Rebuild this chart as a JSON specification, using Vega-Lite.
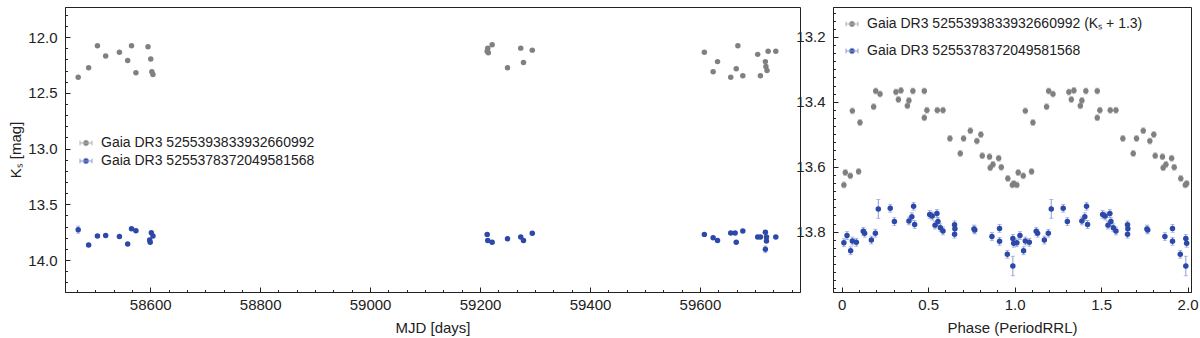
{
  "$schema": "https://vega.github.io/schema/vega-lite/v6.json",
  "padding": {"left": 8, "top": 5, "right": 5, "bottom": 0},
  "background": "white",
  "bounds": "flush",
  "spacing": 33,
  "config": {
    "font": "Liberation Sans",
    "view": {"stroke": "#222", "strokeWidth": 1},
    "axis": {"domainColor": "#222", "tickColor": "#222", "labelColor": "#222", "titleColor": "#222", "labelFontSize": 15, "titleFontSize": 15, "titleFontWeight": "normal", "grid": false, "labelFont": "Liberation Sans", "titleFont": "Liberation Sans", "labelOverlap": false, "labelFlush": false, "tickWidth": 1},
    "legend": {"labelFont": "Liberation Sans", "labelFontSize": 14, "labelLimit": 600, "labelColor": "#222"}
  },
  "resolve": {"scale": {"x": "independent", "y": "independent"}, "legend": {"fill": "independent", "stroke": "independent"}},
  "datasets": {
    "lc": [
      {"mjd": 58469, "mag": 12.36, "err": 0.008, "src": "Gaia DR3 5255393833932660992"},
      {"mjd": 58488, "mag": 12.275, "err": 0.008, "src": "Gaia DR3 5255393833932660992"},
      {"mjd": 58504, "mag": 12.078, "err": 0.008, "src": "Gaia DR3 5255393833932660992"},
      {"mjd": 58519, "mag": 12.17, "err": 0.008, "src": "Gaia DR3 5255393833932660992"},
      {"mjd": 58544, "mag": 12.135, "err": 0.008, "src": "Gaia DR3 5255393833932660992"},
      {"mjd": 58559, "mag": 12.21, "err": 0.008, "src": "Gaia DR3 5255393833932660992"},
      {"mjd": 58566, "mag": 12.078, "err": 0.008, "src": "Gaia DR3 5255393833932660992"},
      {"mjd": 58574, "mag": 12.32, "err": 0.008, "src": "Gaia DR3 5255393833932660992"},
      {"mjd": 58596, "mag": 12.087, "err": 0.008, "src": "Gaia DR3 5255393833932660992"},
      {"mjd": 58601, "mag": 12.197, "err": 0.008, "src": "Gaia DR3 5255393833932660992"},
      {"mjd": 58603, "mag": 12.31, "err": 0.008, "src": "Gaia DR3 5255393833932660992"},
      {"mjd": 58605, "mag": 12.335, "err": 0.008, "src": "Gaia DR3 5255393833932660992"},
      {"mjd": 59213, "mag": 12.128, "err": 0.008, "src": "Gaia DR3 5255393833932660992"},
      {"mjd": 59214, "mag": 12.099, "err": 0.008, "src": "Gaia DR3 5255393833932660992"},
      {"mjd": 59215, "mag": 12.14, "err": 0.008, "src": "Gaia DR3 5255393833932660992"},
      {"mjd": 59222, "mag": 12.069, "err": 0.008, "src": "Gaia DR3 5255393833932660992"},
      {"mjd": 59250, "mag": 12.275, "err": 0.008, "src": "Gaia DR3 5255393833932660992"},
      {"mjd": 59274, "mag": 12.099, "err": 0.008, "src": "Gaia DR3 5255393833932660992"},
      {"mjd": 59279, "mag": 12.227, "err": 0.008, "src": "Gaia DR3 5255393833932660992"},
      {"mjd": 59295, "mag": 12.117, "err": 0.008, "src": "Gaia DR3 5255393833932660992"},
      {"mjd": 59608, "mag": 12.135, "err": 0.008, "src": "Gaia DR3 5255393833932660992"},
      {"mjd": 59624, "mag": 12.31, "err": 0.008, "src": "Gaia DR3 5255393833932660992"},
      {"mjd": 59632, "mag": 12.22, "err": 0.008, "src": "Gaia DR3 5255393833932660992"},
      {"mjd": 59656, "mag": 12.36, "err": 0.008, "src": "Gaia DR3 5255393833932660992"},
      {"mjd": 59666, "mag": 12.284, "err": 0.008, "src": "Gaia DR3 5255393833932660992"},
      {"mjd": 59669, "mag": 12.078, "err": 0.008, "src": "Gaia DR3 5255393833932660992"},
      {"mjd": 59678, "mag": 12.347, "err": 0.008, "src": "Gaia DR3 5255393833932660992"},
      {"mjd": 59705, "mag": 12.155, "err": 0.008, "src": "Gaia DR3 5255393833932660992"},
      {"mjd": 59710, "mag": 12.347, "err": 0.008, "src": "Gaia DR3 5255393833932660992"},
      {"mjd": 59719, "mag": 12.22, "err": 0.008, "src": "Gaia DR3 5255393833932660992"},
      {"mjd": 59720, "mag": 12.263, "err": 0.008, "src": "Gaia DR3 5255393833932660992"},
      {"mjd": 59722, "mag": 12.3, "err": 0.008, "src": "Gaia DR3 5255393833932660992"},
      {"mjd": 59724, "mag": 12.128, "err": 0.008, "src": "Gaia DR3 5255393833932660992"},
      {"mjd": 59738, "mag": 12.128, "err": 0.008, "src": "Gaia DR3 5255393833932660992"},
      {"mjd": 58469, "mag": 13.728, "err": 0.032, "src": "Gaia DR3 5255378372049581568"},
      {"mjd": 58488, "mag": 13.865, "err": 0.012, "src": "Gaia DR3 5255378372049581568"},
      {"mjd": 58504, "mag": 13.785, "err": 0.012, "src": "Gaia DR3 5255378372049581568"},
      {"mjd": 58519, "mag": 13.78, "err": 0.012, "src": "Gaia DR3 5255378372049581568"},
      {"mjd": 58544, "mag": 13.79, "err": 0.012, "src": "Gaia DR3 5255378372049581568"},
      {"mjd": 58559, "mag": 13.857, "err": 0.012, "src": "Gaia DR3 5255378372049581568"},
      {"mjd": 58566, "mag": 13.72, "err": 0.012, "src": "Gaia DR3 5255378372049581568"},
      {"mjd": 58574, "mag": 13.737, "err": 0.012, "src": "Gaia DR3 5255378372049581568"},
      {"mjd": 58599, "mag": 13.82, "err": 0.012, "src": "Gaia DR3 5255378372049581568"},
      {"mjd": 58600, "mag": 13.84, "err": 0.012, "src": "Gaia DR3 5255378372049581568"},
      {"mjd": 58602, "mag": 13.755, "err": 0.012, "src": "Gaia DR3 5255378372049581568"},
      {"mjd": 58605, "mag": 13.785, "err": 0.012, "src": "Gaia DR3 5255378372049581568"},
      {"mjd": 59213, "mag": 13.77, "err": 0.012, "src": "Gaia DR3 5255378372049581568"},
      {"mjd": 59214, "mag": 13.824, "err": 0.012, "src": "Gaia DR3 5255378372049581568"},
      {"mjd": 59222, "mag": 13.84, "err": 0.012, "src": "Gaia DR3 5255378372049581568"},
      {"mjd": 59250, "mag": 13.81, "err": 0.012, "src": "Gaia DR3 5255378372049581568"},
      {"mjd": 59274, "mag": 13.794, "err": 0.012, "src": "Gaia DR3 5255378372049581568"},
      {"mjd": 59279, "mag": 13.824, "err": 0.012, "src": "Gaia DR3 5255378372049581568"},
      {"mjd": 59295, "mag": 13.76, "err": 0.012, "src": "Gaia DR3 5255378372049581568"},
      {"mjd": 59608, "mag": 13.77, "err": 0.012, "src": "Gaia DR3 5255378372049581568"},
      {"mjd": 59624, "mag": 13.8, "err": 0.012, "src": "Gaia DR3 5255378372049581568"},
      {"mjd": 59632, "mag": 13.824, "err": 0.012, "src": "Gaia DR3 5255378372049581568"},
      {"mjd": 59656, "mag": 13.758, "err": 0.012, "src": "Gaia DR3 5255378372049581568"},
      {"mjd": 59664, "mag": 13.758, "err": 0.012, "src": "Gaia DR3 5255378372049581568"},
      {"mjd": 59666, "mag": 13.84, "err": 0.012, "src": "Gaia DR3 5255378372049581568"},
      {"mjd": 59678, "mag": 13.74, "err": 0.012, "src": "Gaia DR3 5255378372049581568"},
      {"mjd": 59705, "mag": 13.794, "err": 0.012, "src": "Gaia DR3 5255378372049581568"},
      {"mjd": 59710, "mag": 13.794, "err": 0.012, "src": "Gaia DR3 5255378372049581568"},
      {"mjd": 59719, "mag": 13.75, "err": 0.012, "src": "Gaia DR3 5255378372049581568"},
      {"mjd": 59719, "mag": 13.904, "err": 0.03, "src": "Gaia DR3 5255378372049581568"},
      {"mjd": 59721, "mag": 13.794, "err": 0.012, "src": "Gaia DR3 5255378372049581568"},
      {"mjd": 59721, "mag": 13.83, "err": 0.012, "src": "Gaia DR3 5255378372049581568"},
      {"mjd": 59738, "mag": 13.794, "err": 0.012, "src": "Gaia DR3 5255378372049581568"}
    ],
    "ph": [
      {"phase": 0.013, "mag": 13.656, "err": 0.009, "src": "Gaia DR3 5255393833932660992"},
      {"phase": 0.021, "mag": 13.618, "err": 0.009, "src": "Gaia DR3 5255393833932660992"},
      {"phase": 0.05, "mag": 13.628, "err": 0.009, "src": "Gaia DR3 5255393833932660992"},
      {"phase": 0.062, "mag": 13.428, "err": 0.009, "src": "Gaia DR3 5255393833932660992"},
      {"phase": 0.098, "mag": 13.615, "err": 0.009, "src": "Gaia DR3 5255393833932660992"},
      {"phase": 0.106, "mag": 13.464, "err": 0.009, "src": "Gaia DR3 5255393833932660992"},
      {"phase": 0.185, "mag": 13.415, "err": 0.009, "src": "Gaia DR3 5255393833932660992"},
      {"phase": 0.197, "mag": 13.367, "err": 0.009, "src": "Gaia DR3 5255393833932660992"},
      {"phase": 0.222, "mag": 13.376, "err": 0.009, "src": "Gaia DR3 5255393833932660992"},
      {"phase": 0.314, "mag": 13.37, "err": 0.009, "src": "Gaia DR3 5255393833932660992"},
      {"phase": 0.328, "mag": 13.393, "err": 0.009, "src": "Gaia DR3 5255393833932660992"},
      {"phase": 0.343, "mag": 13.365, "err": 0.009, "src": "Gaia DR3 5255393833932660992"},
      {"phase": 0.38, "mag": 13.412, "err": 0.009, "src": "Gaia DR3 5255393833932660992"},
      {"phase": 0.389, "mag": 13.396, "err": 0.009, "src": "Gaia DR3 5255393833932660992"},
      {"phase": 0.412, "mag": 13.367, "err": 0.009, "src": "Gaia DR3 5255393833932660992"},
      {"phase": 0.478, "mag": 13.367, "err": 0.009, "src": "Gaia DR3 5255393833932660992"},
      {"phase": 0.478, "mag": 13.449, "err": 0.009, "src": "Gaia DR3 5255393833932660992"},
      {"phase": 0.493, "mag": 13.426, "err": 0.009, "src": "Gaia DR3 5255393833932660992"},
      {"phase": 0.553, "mag": 13.426, "err": 0.009, "src": "Gaia DR3 5255393833932660992"},
      {"phase": 0.586, "mag": 13.426, "err": 0.009, "src": "Gaia DR3 5255393833932660992"},
      {"phase": 0.626, "mag": 13.513, "err": 0.009, "src": "Gaia DR3 5255393833932660992"},
      {"phase": 0.686, "mag": 13.559, "err": 0.009, "src": "Gaia DR3 5255393833932660992"},
      {"phase": 0.705, "mag": 13.513, "err": 0.009, "src": "Gaia DR3 5255393833932660992"},
      {"phase": 0.744, "mag": 13.489, "err": 0.009, "src": "Gaia DR3 5255393833932660992"},
      {"phase": 0.782, "mag": 13.521, "err": 0.009, "src": "Gaia DR3 5255393833932660992"},
      {"phase": 0.805, "mag": 13.501, "err": 0.009, "src": "Gaia DR3 5255393833932660992"},
      {"phase": 0.813, "mag": 13.566, "err": 0.009, "src": "Gaia DR3 5255393833932660992"},
      {"phase": 0.855, "mag": 13.569, "err": 0.009, "src": "Gaia DR3 5255393833932660992"},
      {"phase": 0.859, "mag": 13.603, "err": 0.009, "src": "Gaia DR3 5255393833932660992"},
      {"phase": 0.875, "mag": 13.593, "err": 0.009, "src": "Gaia DR3 5255393833932660992"},
      {"phase": 0.908, "mag": 13.574, "err": 0.009, "src": "Gaia DR3 5255393833932660992"},
      {"phase": 0.923, "mag": 13.602, "err": 0.009, "src": "Gaia DR3 5255393833932660992"},
      {"phase": 0.961, "mag": 13.636, "err": 0.009, "src": "Gaia DR3 5255393833932660992"},
      {"phase": 0.987, "mag": 13.656, "err": 0.009, "src": "Gaia DR3 5255393833932660992"},
      {"phase": 0.995, "mag": 13.652, "err": 0.009, "src": "Gaia DR3 5255393833932660992"},
      {"phase": 1.013, "mag": 13.656, "err": 0.009, "src": "Gaia DR3 5255393833932660992"},
      {"phase": 1.021, "mag": 13.618, "err": 0.009, "src": "Gaia DR3 5255393833932660992"},
      {"phase": 1.05, "mag": 13.628, "err": 0.009, "src": "Gaia DR3 5255393833932660992"},
      {"phase": 1.062, "mag": 13.428, "err": 0.009, "src": "Gaia DR3 5255393833932660992"},
      {"phase": 1.098, "mag": 13.615, "err": 0.009, "src": "Gaia DR3 5255393833932660992"},
      {"phase": 1.106, "mag": 13.464, "err": 0.009, "src": "Gaia DR3 5255393833932660992"},
      {"phase": 1.185, "mag": 13.415, "err": 0.009, "src": "Gaia DR3 5255393833932660992"},
      {"phase": 1.197, "mag": 13.367, "err": 0.009, "src": "Gaia DR3 5255393833932660992"},
      {"phase": 1.222, "mag": 13.376, "err": 0.009, "src": "Gaia DR3 5255393833932660992"},
      {"phase": 1.314, "mag": 13.37, "err": 0.009, "src": "Gaia DR3 5255393833932660992"},
      {"phase": 1.328, "mag": 13.393, "err": 0.009, "src": "Gaia DR3 5255393833932660992"},
      {"phase": 1.343, "mag": 13.365, "err": 0.009, "src": "Gaia DR3 5255393833932660992"},
      {"phase": 1.38, "mag": 13.412, "err": 0.009, "src": "Gaia DR3 5255393833932660992"},
      {"phase": 1.389, "mag": 13.396, "err": 0.009, "src": "Gaia DR3 5255393833932660992"},
      {"phase": 1.412, "mag": 13.367, "err": 0.009, "src": "Gaia DR3 5255393833932660992"},
      {"phase": 1.478, "mag": 13.367, "err": 0.009, "src": "Gaia DR3 5255393833932660992"},
      {"phase": 1.478, "mag": 13.449, "err": 0.009, "src": "Gaia DR3 5255393833932660992"},
      {"phase": 1.493, "mag": 13.426, "err": 0.009, "src": "Gaia DR3 5255393833932660992"},
      {"phase": 1.553, "mag": 13.426, "err": 0.009, "src": "Gaia DR3 5255393833932660992"},
      {"phase": 1.586, "mag": 13.426, "err": 0.009, "src": "Gaia DR3 5255393833932660992"},
      {"phase": 1.626, "mag": 13.513, "err": 0.009, "src": "Gaia DR3 5255393833932660992"},
      {"phase": 1.686, "mag": 13.559, "err": 0.009, "src": "Gaia DR3 5255393833932660992"},
      {"phase": 1.705, "mag": 13.513, "err": 0.009, "src": "Gaia DR3 5255393833932660992"},
      {"phase": 1.744, "mag": 13.489, "err": 0.009, "src": "Gaia DR3 5255393833932660992"},
      {"phase": 1.782, "mag": 13.521, "err": 0.009, "src": "Gaia DR3 5255393833932660992"},
      {"phase": 1.805, "mag": 13.501, "err": 0.009, "src": "Gaia DR3 5255393833932660992"},
      {"phase": 1.813, "mag": 13.566, "err": 0.009, "src": "Gaia DR3 5255393833932660992"},
      {"phase": 1.855, "mag": 13.569, "err": 0.009, "src": "Gaia DR3 5255393833932660992"},
      {"phase": 1.859, "mag": 13.603, "err": 0.009, "src": "Gaia DR3 5255393833932660992"},
      {"phase": 1.875, "mag": 13.593, "err": 0.009, "src": "Gaia DR3 5255393833932660992"},
      {"phase": 1.908, "mag": 13.574, "err": 0.009, "src": "Gaia DR3 5255393833932660992"},
      {"phase": 1.923, "mag": 13.602, "err": 0.009, "src": "Gaia DR3 5255393833932660992"},
      {"phase": 1.961, "mag": 13.636, "err": 0.009, "src": "Gaia DR3 5255393833932660992"},
      {"phase": 1.987, "mag": 13.656, "err": 0.009, "src": "Gaia DR3 5255393833932660992"},
      {"phase": 1.995, "mag": 13.652, "err": 0.009, "src": "Gaia DR3 5255393833932660992"},
      {"phase": 0.013, "mag": 13.834, "err": 0.012, "src": "Gaia DR3 5255378372049581568"},
      {"phase": 0.031, "mag": 13.812, "err": 0.012, "src": "Gaia DR3 5255378372049581568"},
      {"phase": 0.052, "mag": 13.859, "err": 0.012, "src": "Gaia DR3 5255378372049581568"},
      {"phase": 0.062, "mag": 13.829, "err": 0.012, "src": "Gaia DR3 5255378372049581568"},
      {"phase": 0.085, "mag": 13.833, "err": 0.012, "src": "Gaia DR3 5255378372049581568"},
      {"phase": 0.125, "mag": 13.799, "err": 0.012, "src": "Gaia DR3 5255378372049581568"},
      {"phase": 0.133, "mag": 13.805, "err": 0.012, "src": "Gaia DR3 5255378372049581568"},
      {"phase": 0.172, "mag": 13.826, "err": 0.012, "src": "Gaia DR3 5255378372049581568"},
      {"phase": 0.195, "mag": 13.805, "err": 0.012, "src": "Gaia DR3 5255378372049581568"},
      {"phase": 0.212, "mag": 13.73, "err": 0.029, "src": "Gaia DR3 5255378372049581568"},
      {"phase": 0.281, "mag": 13.728, "err": 0.012, "src": "Gaia DR3 5255378372049581568"},
      {"phase": 0.305, "mag": 13.769, "err": 0.012, "src": "Gaia DR3 5255378372049581568"},
      {"phase": 0.389, "mag": 13.767, "err": 0.012, "src": "Gaia DR3 5255378372049581568"},
      {"phase": 0.406, "mag": 13.754, "err": 0.012, "src": "Gaia DR3 5255378372049581568"},
      {"phase": 0.416, "mag": 13.722, "err": 0.012, "src": "Gaia DR3 5255378372049581568"},
      {"phase": 0.422, "mag": 13.778, "err": 0.012, "src": "Gaia DR3 5255378372049581568"},
      {"phase": 0.509, "mag": 13.747, "err": 0.012, "src": "Gaia DR3 5255378372049581568"},
      {"phase": 0.524, "mag": 13.752, "err": 0.012, "src": "Gaia DR3 5255378372049581568"},
      {"phase": 0.54, "mag": 13.78, "err": 0.012, "src": "Gaia DR3 5255378372049581568"},
      {"phase": 0.551, "mag": 13.744, "err": 0.012, "src": "Gaia DR3 5255378372049581568"},
      {"phase": 0.557, "mag": 13.769, "err": 0.012, "src": "Gaia DR3 5255378372049581568"},
      {"phase": 0.571, "mag": 13.788, "err": 0.012, "src": "Gaia DR3 5255378372049581568"},
      {"phase": 0.586, "mag": 13.798, "err": 0.012, "src": "Gaia DR3 5255378372049581568"},
      {"phase": 0.653, "mag": 13.779, "err": 0.012, "src": "Gaia DR3 5255378372049581568"},
      {"phase": 0.655, "mag": 13.791, "err": 0.012, "src": "Gaia DR3 5255378372049581568"},
      {"phase": 0.653, "mag": 13.808, "err": 0.012, "src": "Gaia DR3 5255378372049581568"},
      {"phase": 0.765, "mag": 13.792, "err": 0.012, "src": "Gaia DR3 5255378372049581568"},
      {"phase": 0.77, "mag": 13.795, "err": 0.012, "src": "Gaia DR3 5255378372049581568"},
      {"phase": 0.869, "mag": 13.815, "err": 0.012, "src": "Gaia DR3 5255378372049581568"},
      {"phase": 0.913, "mag": 13.79, "err": 0.012, "src": "Gaia DR3 5255378372049581568"},
      {"phase": 0.913, "mag": 13.83, "err": 0.012, "src": "Gaia DR3 5255378372049581568"},
      {"phase": 0.958, "mag": 13.87, "err": 0.012, "src": "Gaia DR3 5255378372049581568"},
      {"phase": 0.99, "mag": 13.821, "err": 0.012, "src": "Gaia DR3 5255378372049581568"},
      {"phase": 0.99, "mag": 13.906, "err": 0.03, "src": "Gaia DR3 5255378372049581568"},
      {"phase": 0.995, "mag": 13.836, "err": 0.012, "src": "Gaia DR3 5255378372049581568"},
      {"phase": 1.013, "mag": 13.834, "err": 0.012, "src": "Gaia DR3 5255378372049581568"},
      {"phase": 1.031, "mag": 13.812, "err": 0.012, "src": "Gaia DR3 5255378372049581568"},
      {"phase": 1.052, "mag": 13.859, "err": 0.012, "src": "Gaia DR3 5255378372049581568"},
      {"phase": 1.062, "mag": 13.829, "err": 0.012, "src": "Gaia DR3 5255378372049581568"},
      {"phase": 1.085, "mag": 13.833, "err": 0.012, "src": "Gaia DR3 5255378372049581568"},
      {"phase": 1.125, "mag": 13.799, "err": 0.012, "src": "Gaia DR3 5255378372049581568"},
      {"phase": 1.133, "mag": 13.805, "err": 0.012, "src": "Gaia DR3 5255378372049581568"},
      {"phase": 1.172, "mag": 13.826, "err": 0.012, "src": "Gaia DR3 5255378372049581568"},
      {"phase": 1.195, "mag": 13.805, "err": 0.012, "src": "Gaia DR3 5255378372049581568"},
      {"phase": 1.212, "mag": 13.73, "err": 0.029, "src": "Gaia DR3 5255378372049581568"},
      {"phase": 1.281, "mag": 13.728, "err": 0.012, "src": "Gaia DR3 5255378372049581568"},
      {"phase": 1.305, "mag": 13.769, "err": 0.012, "src": "Gaia DR3 5255378372049581568"},
      {"phase": 1.389, "mag": 13.767, "err": 0.012, "src": "Gaia DR3 5255378372049581568"},
      {"phase": 1.406, "mag": 13.754, "err": 0.012, "src": "Gaia DR3 5255378372049581568"},
      {"phase": 1.416, "mag": 13.722, "err": 0.012, "src": "Gaia DR3 5255378372049581568"},
      {"phase": 1.422, "mag": 13.778, "err": 0.012, "src": "Gaia DR3 5255378372049581568"},
      {"phase": 1.509, "mag": 13.747, "err": 0.012, "src": "Gaia DR3 5255378372049581568"},
      {"phase": 1.524, "mag": 13.752, "err": 0.012, "src": "Gaia DR3 5255378372049581568"},
      {"phase": 1.54, "mag": 13.78, "err": 0.012, "src": "Gaia DR3 5255378372049581568"},
      {"phase": 1.551, "mag": 13.744, "err": 0.012, "src": "Gaia DR3 5255378372049581568"},
      {"phase": 1.557, "mag": 13.769, "err": 0.012, "src": "Gaia DR3 5255378372049581568"},
      {"phase": 1.571, "mag": 13.788, "err": 0.012, "src": "Gaia DR3 5255378372049581568"},
      {"phase": 1.586, "mag": 13.798, "err": 0.012, "src": "Gaia DR3 5255378372049581568"},
      {"phase": 1.653, "mag": 13.779, "err": 0.012, "src": "Gaia DR3 5255378372049581568"},
      {"phase": 1.655, "mag": 13.791, "err": 0.012, "src": "Gaia DR3 5255378372049581568"},
      {"phase": 1.653, "mag": 13.808, "err": 0.012, "src": "Gaia DR3 5255378372049581568"},
      {"phase": 1.765, "mag": 13.792, "err": 0.012, "src": "Gaia DR3 5255378372049581568"},
      {"phase": 1.77, "mag": 13.795, "err": 0.012, "src": "Gaia DR3 5255378372049581568"},
      {"phase": 1.869, "mag": 13.815, "err": 0.012, "src": "Gaia DR3 5255378372049581568"},
      {"phase": 1.913, "mag": 13.79, "err": 0.012, "src": "Gaia DR3 5255378372049581568"},
      {"phase": 1.913, "mag": 13.83, "err": 0.012, "src": "Gaia DR3 5255378372049581568"},
      {"phase": 1.958, "mag": 13.87, "err": 0.012, "src": "Gaia DR3 5255378372049581568"},
      {"phase": 1.99, "mag": 13.821, "err": 0.012, "src": "Gaia DR3 5255378372049581568"},
      {"phase": 1.99, "mag": 13.906, "err": 0.03, "src": "Gaia DR3 5255378372049581568"},
      {"phase": 1.995, "mag": 13.836, "err": 0.012, "src": "Gaia DR3 5255378372049581568"}
    ]
  },
  "hconcat": [
    {
      "width": 735,
      "height": 285,
      "data": {"name": "lc"},
      "encoding": {
        "x": {"field": "mjd", "type": "quantitative",
          "scale": {"domain": [58445, 59782], "nice": false, "zero": false},
          "axis": {"title": "MJD [days]", "titlePadding": 6, "labelOverlap": false,
            "values": [58466.67, 58500, 58533.33, 58566.67, 58600, 58633.33, 58666.67, 58700, 58733.33, 58766.67, 58800, 58833.33, 58866.67, 58900, 58933.33, 58966.67, 59000, 59033.33, 59066.67, 59100, 59133.33, 59166.67, 59200, 59233.33, 59266.67, 59300, 59333.33, 59366.67, 59400, 59433.33, 59466.67, 59500, 59533.33, 59566.67, 59600, 59633.33, 59666.67, 59700, 59733.33, 59766.67],
            "labelExpr": "abs(datum.value % 200) < 0.01 ? format(datum.value, 'd') : ''",
            "tickSize": {"condition": {"test": "abs(datum.value % 200) < 0.01", "value": -5}, "value": -2.5},
            "labelPadding": 10}},
        "y": {"field": "mag", "type": "quantitative",
          "scale": {"domain": [11.73, 14.287], "reverse": true, "nice": false, "zero": false},
          "axis": {"title": "Kₛ [mag]", "titlePadding": 4, "labelOverlap": false,
            "values": [11.8, 11.9, 12.0, 12.1, 12.2, 12.3, 12.4, 12.5, 12.6, 12.7, 12.8, 12.9, 13.0, 13.1, 13.2, 13.3, 13.4, 13.5, 13.6, 13.7, 13.8, 13.9, 14.0, 14.1, 14.2],
            "labelExpr": "abs(datum.value*2 - round(datum.value*2)) < 0.001 ? format(datum.value, '.1f') : ''",
            "tickSize": {"condition": {"test": "abs(datum.value*2 - round(datum.value*2)) < 0.001", "value": -5}, "value": -2.5},
            "labelPadding": 13}}
      },
      "layer": [
        {
          "mark": {"type": "errorbar", "ticks": {"size": 4}, "thickness": 1},
          "encoding": {
            "yError": {"field": "err"},
            "color": {"field": "src", "type": "nominal",
              "scale": {"domain": ["Gaia DR3 5255393833932660992", "Gaia DR3 5255378372049581568"], "range": ["#b0b0b0", "#8d9cd6"]},
              "legend": null}
          }
        },
        {
          "mark": {"type": "circle", "size": 30, "opacity": 1, "strokeWidth": 0},
          "encoding": {
            "fill": {"field": "src", "type": "nominal",
              "scale": {"domain": ["Gaia DR3 5255393833932660992", "Gaia DR3 5255378372049581568"], "range": ["#808080", "#2c48a8"]},
              "legend": {"title": null, "orient": "none", "legendX": 14, "legendY": 129, "padding": 0, "symbolType": "M-1,0L1,0M-1,-0.4L-1,0.4M1,-0.4L1,0.4M0.45,0A0.45,0.45,0,1,1,-0.45,0A0.45,0.45,0,1,1,0.45,0Z", "symbolSize": 144, "symbolStrokeWidth": 1, "labelOffset": 8, "rowPadding": 4, "labelFontSize": 14, "labelLimit": 600}},
            "stroke": {"field": "src", "type": "nominal",
              "scale": {"domain": ["Gaia DR3 5255393833932660992", "Gaia DR3 5255378372049581568"], "range": ["#b0b0b0", "#8d9cd6"]},
              "legend": {"title": null, "orient": "none", "legendX": 14, "legendY": 129, "padding": 0, "symbolType": "M-1,0L1,0M-1,-0.4L-1,0.4M1,-0.4L1,0.4M0.45,0A0.45,0.45,0,1,1,-0.45,0A0.45,0.45,0,1,1,0.45,0Z", "symbolSize": 144, "symbolStrokeWidth": 1, "labelOffset": 8, "rowPadding": 4, "labelFontSize": 14, "labelLimit": 600}}
          }
        }
      ]
    },
    {
      "width": 358,
      "height": 285,
      "data": {"name": "ph"},
      "encoding": {
        "x": {"field": "phase", "type": "quantitative",
          "scale": {"domain": [-0.05, 2.02], "nice": false, "zero": false},
          "axis": {"title": "Phase (PeriodRRL)", "titlePadding": 6, "labelOverlap": false,
            "values": [0, 0.1, 0.2, 0.3, 0.4, 0.5, 0.6, 0.7, 0.8, 0.9, 1.0, 1.1, 1.2, 1.3, 1.4, 1.5, 1.6, 1.7, 1.8, 1.9, 2.0],
            "labelExpr": "abs(datum.value*2 - round(datum.value*2)) < 0.001 ? (datum.value == 0 ? '0' : format(datum.value, '.1f')) : ''",
            "tickSize": {"condition": {"test": "abs(datum.value*2 - round(datum.value*2)) < 0.001", "value": -5}, "value": -2.5},
            "labelPadding": 10}},
        "y": {"field": "mag", "type": "quantitative",
          "scale": {"domain": [13.108, 13.986], "reverse": true, "nice": false, "zero": false},
          "axis": {"title": null, "labelOverlap": false,
            "values": [13.125, 13.15, 13.175, 13.2, 13.225, 13.25, 13.275, 13.3, 13.325, 13.35, 13.375, 13.4, 13.425, 13.45, 13.475, 13.5, 13.525, 13.55, 13.575, 13.6, 13.625, 13.65, 13.675, 13.7, 13.725, 13.75, 13.775, 13.8, 13.825, 13.85, 13.875, 13.9, 13.925, 13.95, 13.975],
            "labelExpr": "abs(datum.value*5 - round(datum.value*5)) < 0.001 ? format(datum.value, '.1f') : ''",
            "tickSize": {"condition": {"test": "abs(datum.value*5 - round(datum.value*5)) < 0.001", "value": -5}, "value": -2.5},
            "labelPadding": 13}}
      },
      "layer": [
        {
          "mark": {"type": "errorbar", "ticks": {"size": 4}, "thickness": 1},
          "encoding": {
            "yError": {"field": "err"},
            "color": {"field": "src", "type": "nominal",
              "scale": {"domain": ["Gaia DR3 5255393833932660992", "Gaia DR3 5255378372049581568"], "range": ["#b0b0b0", "#8d9cd6"]},
              "legend": null}
          }
        },
        {
          "mark": {"type": "circle", "size": 30, "opacity": 1, "strokeWidth": 0},
          "encoding": {
            "fill": {"field": "src", "type": "nominal",
              "scale": {"domain": ["Gaia DR3 5255393833932660992", "Gaia DR3 5255378372049581568"], "range": ["#808080", "#2c48a8"]},
              "legend": {"title": null, "orient": "none", "legendX": 12, "legendY": 10, "padding": 0, "symbolType": "M-1,0L1,0M-1,-0.4L-1,0.4M1,-0.4L1,0.4M0.45,0A0.45,0.45,0,1,1,-0.45,0A0.45,0.45,0,1,1,0.45,0Z", "symbolSize": 144, "symbolStrokeWidth": 1, "labelOffset": 8, "rowPadding": 13, "labelFontSize": 14, "labelLimit": 600,
                "labelExpr": "datum.label == 'Gaia DR3 5255393833932660992' ? datum.label + ' (Kₛ + 1.3)' : datum.label"}},
            "stroke": {"field": "src", "type": "nominal",
              "scale": {"domain": ["Gaia DR3 5255393833932660992", "Gaia DR3 5255378372049581568"], "range": ["#b0b0b0", "#8d9cd6"]},
              "legend": {"title": null, "orient": "none", "legendX": 12, "legendY": 10, "padding": 0, "symbolType": "M-1,0L1,0M-1,-0.4L-1,0.4M1,-0.4L1,0.4M0.45,0A0.45,0.45,0,1,1,-0.45,0A0.45,0.45,0,1,1,0.45,0Z", "symbolSize": 144, "symbolStrokeWidth": 1, "labelOffset": 8, "rowPadding": 13, "labelFontSize": 14, "labelLimit": 600,
                "labelExpr": "datum.label == 'Gaia DR3 5255393833932660992' ? datum.label + ' (Kₛ + 1.3)' : datum.label"}}
          }
        }
      ]
    }
  ]
}
